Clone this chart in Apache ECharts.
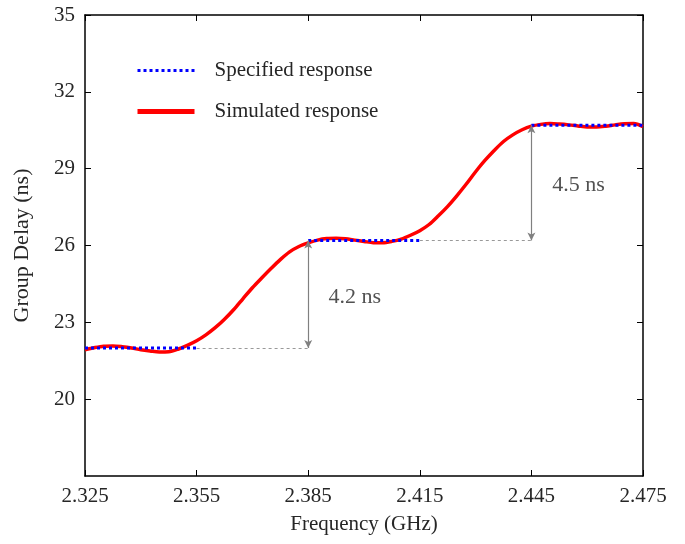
<!DOCTYPE html>
<html>
<head>
<meta charset="utf-8">
<script src="https://cdn.jsdelivr.net/npm/echarts@6/dist/echarts.min.js"></script>
<style>html,body{margin:0;padding:0;background:#fff}#c{width:685px;height:544px}</style>
</head>
<body>
<div id="c"></div>
<script>
// ---- data ----
const xTicks = [2.325, 2.355, 2.385, 2.415, 2.445, 2.475];
const yTicks = [20, 23, 26, 29, 32, 35];
const simFreq = [2.3250,2.3275,2.3300,2.3325,2.3350,2.3375,2.3400,2.3425,2.3450,2.3475,
                 2.3500,2.3525,2.3550,2.3575,2.3600,2.3625,2.3650,2.3675,2.3700,2.3725,
                 2.3750,2.3775,2.3800,2.3825,2.3850,2.3875,2.3900,2.3925,2.3950,2.3975,
                 2.4000,2.4025,2.4050,2.4075,2.4100,2.4125,2.4150,2.4175,2.4200,2.4225,
                 2.4250,2.4275,2.4300,2.4325,2.4350,2.4375,2.4400,2.4425,2.4450,2.4475,
                 2.4500,2.4525,2.4550,2.4575,2.4600,2.4625,2.4650,2.4675,2.4700,2.4725,2.4750];
const simDelay = [21.93,22.01,22.07,22.08,22.05,22.00,21.93,21.88,21.84,21.85,
                  21.95,22.10,22.28,22.51,22.79,23.12,23.50,23.93,24.35,24.73,
                  25.10,25.45,25.75,25.96,26.10,26.21,26.27,26.28,26.26,26.21,
                  26.16,26.11,26.11,26.16,26.25,26.40,26.58,26.82,27.16,27.53,
                  27.95,28.40,28.88,29.32,29.71,30.06,30.32,30.52,30.66,30.73,
                  30.76,30.74,30.71,30.67,30.63,30.63,30.66,30.71,30.75,30.76,30.64];
const specStart = [2.325, 2.385, 2.445];
const specEnd = [2.355, 2.415, 2.475];
const specDelay = [22.0, 26.2, 30.7];
const annoText = ['4.2 ns', '4.5 ns'];
const annoX = [2.3903, 2.4505];
const annoY = [24.0, 28.35];

const FONT = 'Liberation Serif';
const TXT = '#262626';

const series = [];
series.push({
  name: 'Simulated response', type: 'line', symbol: 'none', smooth: 0.3,
  data: simFreq.map((f, i) => [f, simDelay[i]]),
  lineStyle: { color: '#ff0000', width: 3.5 }, itemStyle: { color: '#ff0000' }, z: 3, silent: true
});
for (let i = 0; i < specStart.length; i++) {
  series.push({
    name: 'Specified response', type: 'line', symbol: 'none',
    data: [[specStart[i], specDelay[i]], [specEnd[i], specDelay[i]]],
    lineStyle: { color: '#0000ff', width: 3, type: 'dotted' }, itemStyle: { color: '#0000ff' }, z: 4, silent: true
  });
}
const guideLines = [];
const arrowLines = [];
for (let i = 0; i < specStart.length - 1; i++) {
  guideLines.push([{ coord: [specEnd[i], specDelay[i]] }, { coord: [specStart[i + 1], specDelay[i]] }]);
  arrowLines.push([{ coord: [specStart[i + 1], specDelay[i]] }, { coord: [specStart[i + 1], specDelay[i + 1]] }]);
}
series.push({
  name: 'guides', type: 'line', data: [], silent: true,
  markLine: { silent: true, symbol: ['none', 'none'], label: { show: false },
    lineStyle: { color: '#999999', width: 1, type: [3, 3] }, emphasis: { disabled: true }, data: guideLines, animation: false }
});
series.push({
  name: 'arrows', type: 'line', data: [], silent: true,
  markLine: { silent: true, symbol: ['arrow', 'arrow'], symbolSize: [6, 8], label: { show: false },
    lineStyle: { color: '#808080', width: 1.2, type: 'solid' }, emphasis: { disabled: true }, data: arrowLines, animation: false }
});
series.push({
  name: 'annotations', type: 'scatter', symbolSize: 1, itemStyle: { color: 'rgba(0,0,0,0)' }, silent: true,
  data: annoX.map((x, i) => ({ value: [x, annoY[i]], label: { formatter: annoText[i] } })),
  label: { show: true, position: 'right', distance: 0, fontFamily: FONT, fontSize: 22, color: TXT }
});

const axisLineStyle = { color: '#000', width: 1.5 };
const option = {
  animation: false,
  backgroundColor: '#fff',
  grid: { left: 85, right: 42, top: 15, bottom: 68 },
  legend: {
    data: [
      { name: 'Specified response', itemStyle: { opacity: 0 }, lineStyle: { width: 3 } },
      { name: 'Simulated response', itemStyle: { opacity: 0 }, lineStyle: { width: 5 } }
    ],
    orient: 'vertical', left: 135, top: 60, padding: 0, itemWidth: 57, itemHeight: 14, itemGap: 20,
    textStyle: { fontFamily: FONT, fontSize: 21, color: TXT, padding: [0, 0, 0, 15] },
    selectedMode: false
  },
  xAxis: [{
    type: 'value', min: 2.325, max: 2.475, position: 'bottom',
    name: 'Frequency (GHz)', nameLocation: 'middle', nameGap: 38,
    nameTextStyle: { fontFamily: FONT, fontSize: 21, color: TXT },
    axisLine: { show: true, lineStyle: axisLineStyle },
    axisTick: { show: true, inside: true, length: 6, customValues: xTicks, lineStyle: { color: '#000' } },
    axisLabel: { customValues: xTicks, formatter: v => v.toFixed(3), fontFamily: FONT, fontSize: 21, color: TXT, margin: 10 },
    splitLine: { show: false }
  }, {
    type: 'value', min: 2.325, max: 2.475, position: 'top',
    axisLine: { show: true, lineStyle: axisLineStyle },
    axisTick: { show: true, inside: true, length: 6, customValues: xTicks, lineStyle: { color: '#000' } },
    axisLabel: { show: false }, splitLine: { show: false }
  }],
  yAxis: [{
    type: 'value', min: 17, max: 35, position: 'left',
    name: 'Group Delay (ns)', nameLocation: 'middle', nameGap: 52,
    nameTextStyle: { fontFamily: FONT, fontSize: 22, color: TXT },
    axisLine: { show: true, lineStyle: axisLineStyle },
    axisTick: { show: true, inside: true, length: 6, customValues: yTicks, lineStyle: { color: '#000' } },
    axisLabel: { customValues: yTicks, fontFamily: FONT, fontSize: 21, color: TXT, margin: 10 },
    splitLine: { show: false }
  }, {
    type: 'value', min: 17, max: 35, position: 'right',
    axisLine: { show: true, lineStyle: axisLineStyle },
    axisTick: { show: true, inside: true, length: 6, customValues: yTicks, lineStyle: { color: '#000' } },
    axisLabel: { show: false }, splitLine: { show: false }
  }],
  series: series
};
const chart = echarts.init(document.getElementById('c'), null, { renderer: 'canvas' });
chart.setOption(option);
</script>
</body>
</html>
